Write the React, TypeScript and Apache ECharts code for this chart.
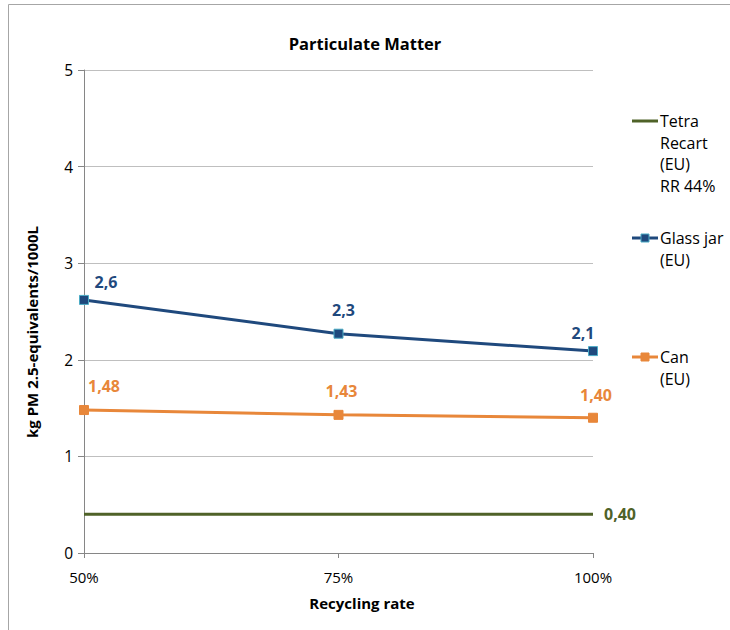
import React, { useEffect, useRef } from 'react';
import * as echarts from 'echarts';

const categories = ['50%', '75%', '100%'];
const tetraValues = [0.4, 0.4, 0.4];
const glassValues = [2.62, 2.27, 2.09];
const canValues = [1.48, 1.43, 1.4];
const yMin = 0;
const yMax = 5;
const yInterval = 1;
const titleText = 'Particulate Matter';
const yAxisTitle = 'kg PM 2.5-equivalents/1000L';
const xAxisTitle = 'Recycling rate';
const seriesNames = ['Tetra Recart (EU) RR 44%', 'Glass jar (EU)', 'Can (EU)'];
const legendLines = [['Tetra', 'Recart', '(EU)', 'RR 44%'], ['Glass jar', '(EU)'], ['Can', '(EU)']];

const GREEN = '#4F6228';
const BLUE = '#1F497D';
const BLUE_EDGE = '#4BACC6';
const ORANGE = '#E8873A';
const FONT = '"Open Sans", "Noto Sans", sans-serif';

const fmt = (v: number, d: number) => v.toFixed(d).replace('.', ',');

export default function App() {
  const ref = useRef<HTMLDivElement>(null);
  useEffect(() => {
    if (!ref.current) return;
    const chart = echarts.init(ref.current, null, { renderer: 'svg' });

    const glassOffsets = [[22, 0], [5, -6], [-10, 0]];
    const canOffsets = [[20, -6], [3, -6], [3, -5]];

    const legendY = [121, 238, 357];
    const legendColors = [GREEN, BLUE, ORANGE];
    const legendGraphics: any[] = [];
    legendLines.forEach((lines, i) => {
      const y = legendY[i];
      legendGraphics.push({
        type: 'line',
        shape: { x1: 632, y1: y, x2: 658, y2: y },
        style: { stroke: legendColors[i], lineWidth: 3 },
      });
      if (i > 0) {
        legendGraphics.push({
          type: 'rect',
          shape: { x: 641, y: y - 4, width: 8, height: 8 },
          style: { fill: legendColors[i], stroke: i === 1 ? BLUE_EDGE : ORANGE, lineWidth: 1 },
        });
      }
      lines.forEach((t, j) => {
        legendGraphics.push({
          type: 'text',
          x: 660,
          y: y + j * 21.5,
          style: { text: t, fill: '#000', font: `16px ${FONT}`, verticalAlign: 'middle', align: 'left' },
        });
      });
    });

    chart.setOption({
      animation: false,
      backgroundColor: '#fff',
      title: {
        text: titleText,
        left: 360,
        textAlign: 'center',
        top: 30,
        textStyle: { fontFamily: FONT, fontSize: 16.5, fontWeight: 'bold', color: '#000' },
      },
      grid: { left: 84, right: 137, top: 70, bottom: 77 },
      xAxis: {
        type: 'category',
        data: categories,
        boundaryGap: false,
        axisLine: { lineStyle: { color: '#868686', width: 1 } },
        axisTick: { show: true, length: 5, lineStyle: { color: '#868686' } },
        axisLabel: { color: '#000', fontFamily: FONT, fontSize: 15, margin: 16 },
        splitLine: { show: false },
      },
      yAxis: {
        type: 'value',
        min: yMin,
        max: yMax,
        interval: yInterval,
        axisLine: { show: true, lineStyle: { color: '#868686', width: 1 } },
        axisTick: { show: true, length: 6, lineStyle: { color: '#868686' } },
        axisLabel: { color: '#000', fontFamily: FONT, fontSize: 15.5, margin: 11 },
        splitLine: { show: true, lineStyle: { color: '#BFBFBF', width: 1 } },
      },
      series: [
        {
          name: seriesNames[0],
          type: 'line',
          data: tetraValues.map((v, i) => ({
            value: v,
            label: i === tetraValues.length - 1
              ? { show: true, position: 'right', distance: 10, formatter: fmt(v, 2) }
              : { show: false },
          })),
          showSymbol: true,
          symbol: 'circle',
          symbolSize: 2,
          lineStyle: { color: GREEN, width: 3 },
          itemStyle: { color: 'rgba(0,0,0,0)', borderWidth: 0 },
          label: { color: GREEN, fontFamily: FONT, fontSize: 16, fontWeight: 'bold' },
        },
        {
          name: seriesNames[1],
          type: 'line',
          data: glassValues.map((v, i) => ({
            value: v,
            label: { show: true, position: 'top', distance: 5, offset: glassOffsets[i], formatter: fmt(v, 1) },
          })),
          symbol: 'rect',
          symbolSize: 9,
          lineStyle: { color: BLUE, width: 3 },
          itemStyle: { color: BLUE, borderColor: BLUE_EDGE, borderWidth: 1 },
          label: { color: BLUE, fontFamily: FONT, fontSize: 16, fontWeight: 'bold' },
          z: 3,
        },
        {
          name: seriesNames[2],
          type: 'line',
          data: canValues.map((v, i) => ({
            value: v,
            label: { show: true, position: 'top', distance: 5, offset: canOffsets[i], formatter: fmt(v, 2) },
          })),
          symbol: 'rect',
          symbolSize: 9,
          lineStyle: { color: ORANGE, width: 3 },
          itemStyle: { color: ORANGE, borderColor: ORANGE, borderWidth: 1 },
          label: { color: ORANGE, fontFamily: FONT, fontSize: 16, fontWeight: 'bold' },
          z: 3,
        },
      ],
      graphic: [
        {
          type: 'rect',
          shape: { x: 8.5, y: 4.5, width: 760, height: 700 },
          style: { fill: 'none', stroke: '#A6A6A6', lineWidth: 1 },
          silent: true,
        },
        {
          type: 'text',
          x: 362,
          y: 603,
          style: { text: xAxisTitle, fill: '#000', font: `bold 15px ${FONT}`, align: 'center', verticalAlign: 'middle' },
        },
        {
          type: 'text',
          x: 32,
          y: 332,
          rotation: Math.PI / 2,
          style: { text: yAxisTitle, fill: '#000', font: `bold 15px ${FONT}`, align: 'center', verticalAlign: 'middle' },
        },
        ...legendGraphics,
      ],
    });
    return () => chart.dispose();
  }, []);

  return (
    <div
      ref={ref}
      style={{ position: 'absolute', left: 0, top: 0, width: 730, height: 630 }}
    />
  );
}
